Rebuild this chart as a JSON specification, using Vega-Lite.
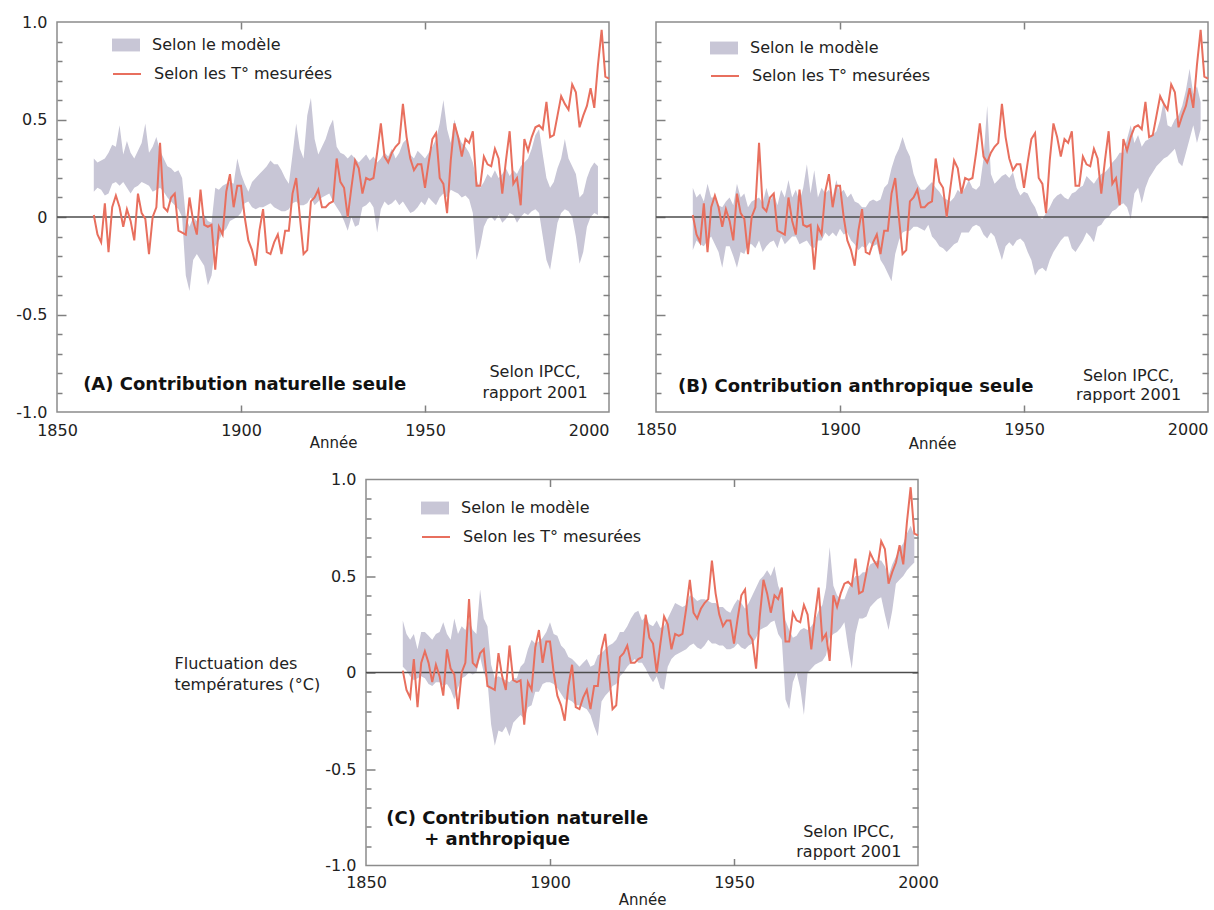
{
"$schema": "https://vega.github.io/schema/vega-lite/v6.json",
"background": "white",
"padding": {"left": 15, "top": 13, "right": 0, "bottom": 0},
"config": {"view": {"stroke": null}, "text": {"font": "DejaVu Sans"}, "legend": {"labelLimit": 400}},
"datasets": {
"obs": [
{"year":1860,"t":0.01},{"year":1861,"t":-0.09},{"year":1862,"t":-0.13},{"year":1863,"t":0.07},{"year":1864,"t":-0.18},{"year":1865,"t":0.05},{"year":1866,"t":0.11},{"year":1867,"t":0.05},{"year":1868,"t":-0.05},{"year":1869,"t":0.04},
{"year":1870,"t":-0.02},{"year":1871,"t":-0.12},{"year":1872,"t":0.12},{"year":1873,"t":0.02},{"year":1874,"t":-0.01},{"year":1875,"t":-0.19},{"year":1876,"t":0.0},{"year":1877,"t":0.05},{"year":1878,"t":0.38},{"year":1879,"t":0.05},
{"year":1880,"t":0.03},{"year":1881,"t":0.10},{"year":1882,"t":0.12},{"year":1883,"t":-0.07},{"year":1884,"t":-0.08},{"year":1885,"t":-0.09},{"year":1886,"t":0.10},{"year":1887,"t":-0.02},{"year":1888,"t":-0.09},{"year":1889,"t":0.14},
{"year":1890,"t":-0.04},{"year":1891,"t":-0.05},{"year":1892,"t":-0.04},{"year":1893,"t":-0.27},{"year":1894,"t":-0.05},{"year":1895,"t":-0.09},{"year":1896,"t":0.13},{"year":1897,"t":0.22},{"year":1898,"t":0.05},{"year":1899,"t":0.16},
{"year":1900,"t":0.16},{"year":1901,"t":0.0},{"year":1902,"t":-0.12},{"year":1903,"t":-0.17},{"year":1904,"t":-0.25},{"year":1905,"t":-0.07},{"year":1906,"t":0.04},{"year":1907,"t":-0.18},{"year":1908,"t":-0.19},{"year":1909,"t":-0.13},
{"year":1910,"t":-0.09},{"year":1911,"t":-0.19},{"year":1912,"t":-0.07},{"year":1913,"t":-0.07},{"year":1914,"t":0.12},{"year":1915,"t":0.20},{"year":1916,"t":0.0},{"year":1917,"t":-0.19},{"year":1918,"t":-0.17},{"year":1919,"t":0.08},
{"year":1920,"t":0.10},{"year":1921,"t":0.14},{"year":1922,"t":0.05},{"year":1923,"t":0.05},{"year":1924,"t":0.07},{"year":1925,"t":0.08},{"year":1926,"t":0.30},{"year":1927,"t":0.18},{"year":1928,"t":0.15},{"year":1929,"t":0.0},
{"year":1930,"t":0.15},{"year":1931,"t":0.29},{"year":1932,"t":0.25},{"year":1933,"t":0.12},{"year":1934,"t":0.20},{"year":1935,"t":0.19},{"year":1936,"t":0.20},{"year":1937,"t":0.33},{"year":1938,"t":0.48},{"year":1939,"t":0.31},
{"year":1940,"t":0.28},{"year":1941,"t":0.33},{"year":1942,"t":0.36},{"year":1943,"t":0.38},{"year":1944,"t":0.58},{"year":1945,"t":0.41},{"year":1946,"t":0.30},{"year":1947,"t":0.24},{"year":1948,"t":0.27},{"year":1949,"t":0.27},
{"year":1950,"t":0.15},{"year":1951,"t":0.28},{"year":1952,"t":0.40},{"year":1953,"t":0.43},{"year":1954,"t":0.20},{"year":1955,"t":0.17},{"year":1956,"t":0.02},{"year":1957,"t":0.29},{"year":1958,"t":0.48},{"year":1959,"t":0.41},
{"year":1960,"t":0.31},{"year":1961,"t":0.40},{"year":1962,"t":0.38},{"year":1963,"t":0.44},{"year":1964,"t":0.16},{"year":1965,"t":0.16},{"year":1966,"t":0.31},{"year":1967,"t":0.27},{"year":1968,"t":0.26},{"year":1969,"t":0.35},
{"year":1970,"t":0.30},{"year":1971,"t":0.12},{"year":1972,"t":0.29},{"year":1973,"t":0.44},{"year":1974,"t":0.17},{"year":1975,"t":0.20},{"year":1976,"t":0.06},{"year":1977,"t":0.40},{"year":1978,"t":0.34},{"year":1979,"t":0.41},
{"year":1980,"t":0.46},{"year":1981,"t":0.47},{"year":1982,"t":0.45},{"year":1983,"t":0.59},{"year":1984,"t":0.41},{"year":1985,"t":0.42},{"year":1986,"t":0.52},{"year":1987,"t":0.62},{"year":1988,"t":0.58},{"year":1989,"t":0.55},
{"year":1990,"t":0.68},{"year":1991,"t":0.64},{"year":1992,"t":0.46},{"year":1993,"t":0.52},{"year":1994,"t":0.57},{"year":1995,"t":0.66},{"year":1996,"t":0.56},{"year":1997,"t":0.78},{"year":1998,"t":0.96},{"year":1999,"t":0.72},
{"year":2000,"t":0.71}
],
"bandA": [
{"year":1860,"lo":0.13,"hi":0.30},{"year":1861,"lo":0.15,"hi":0.28},{"year":1862,"lo":0.14,"hi":0.29},{"year":1863,"lo":0.11,"hi":0.30},{"year":1864,"lo":0.12,"hi":0.33},{"year":1865,"lo":0.17,"hi":0.37},{"year":1866,"lo":0.18,"hi":0.36},{"year":1867,"lo":0.16,"hi":0.47},{"year":1868,"lo":0.18,"hi":0.32},{"year":1869,"lo":0.15,"hi":0.39},
{"year":1870,"lo":0.12,"hi":0.33},{"year":1871,"lo":0.15,"hi":0.30},{"year":1872,"lo":0.16,"hi":0.34},{"year":1873,"lo":0.18,"hi":0.38},{"year":1874,"lo":0.17,"hi":0.48},{"year":1875,"lo":0.16,"hi":0.33},{"year":1876,"lo":0.13,"hi":0.36},{"year":1877,"lo":0.14,"hi":0.41},{"year":1878,"lo":0.15,"hi":0.34},{"year":1879,"lo":0.13,"hi":0.30},
{"year":1880,"lo":0.10,"hi":0.26},{"year":1881,"lo":0.08,"hi":0.25},{"year":1882,"lo":0.06,"hi":0.23},{"year":1883,"lo":0.04,"hi":0.24},{"year":1884,"lo":0.00,"hi":0.20},{"year":1885,"lo":-0.30,"hi":0.00},{"year":1886,"lo":-0.38,"hi":-0.05},{"year":1887,"lo":-0.22,"hi":0.00},{"year":1888,"lo":-0.19,"hi":-0.02},{"year":1889,"lo":-0.22,"hi":0.00},
{"year":1890,"lo":-0.25,"hi":0.01},{"year":1891,"lo":-0.35,"hi":-0.02},{"year":1892,"lo":-0.30,"hi":-0.03},{"year":1893,"lo":-0.15,"hi":0.15},{"year":1894,"lo":-0.12,"hi":0.14},{"year":1895,"lo":-0.08,"hi":0.16},{"year":1896,"lo":-0.06,"hi":0.17},{"year":1897,"lo":-0.02,"hi":0.18},{"year":1898,"lo":-0.01,"hi":0.17},{"year":1899,"lo":0.00,"hi":0.30},
{"year":1900,"lo":0.02,"hi":0.22},{"year":1901,"lo":0.07,"hi":0.17},{"year":1902,"lo":0.08,"hi":0.13},{"year":1903,"lo":0.05,"hi":0.18},{"year":1904,"lo":0.04,"hi":0.20},{"year":1905,"lo":0.05,"hi":0.22},{"year":1906,"lo":0.05,"hi":0.24},{"year":1907,"lo":0.06,"hi":0.26},{"year":1908,"lo":0.07,"hi":0.29},{"year":1909,"lo":0.05,"hi":0.27},
{"year":1910,"lo":0.04,"hi":0.27},{"year":1911,"lo":0.03,"hi":0.24},{"year":1912,"lo":0.03,"hi":0.20},{"year":1913,"lo":0.04,"hi":0.17},{"year":1914,"lo":0.07,"hi":0.32},{"year":1915,"lo":0.08,"hi":0.48},{"year":1916,"lo":0.06,"hi":0.35},{"year":1917,"lo":0.06,"hi":0.30},{"year":1918,"lo":0.07,"hi":0.52},{"year":1919,"lo":0.10,"hi":0.61},
{"year":1920,"lo":0.06,"hi":0.40},{"year":1921,"lo":0.08,"hi":0.32},{"year":1922,"lo":0.10,"hi":0.36},{"year":1923,"lo":0.11,"hi":0.40},{"year":1924,"lo":0.12,"hi":0.46},{"year":1925,"lo":0.08,"hi":0.50},{"year":1926,"lo":0.05,"hi":0.36},{"year":1927,"lo":0.02,"hi":0.33},{"year":1928,"lo":-0.02,"hi":0.32},{"year":1929,"lo":-0.07,"hi":0.30},
{"year":1930,"lo":0.00,"hi":0.32},{"year":1931,"lo":-0.05,"hi":0.30},{"year":1932,"lo":-0.04,"hi":0.28},{"year":1933,"lo":0.05,"hi":0.30},{"year":1934,"lo":0.06,"hi":0.32},{"year":1935,"lo":0.08,"hi":0.29},{"year":1936,"lo":0.05,"hi":0.31},{"year":1937,"lo":-0.08,"hi":0.28},{"year":1938,"lo":0.04,"hi":0.30},{"year":1939,"lo":0.08,"hi":0.33},
{"year":1940,"lo":0.06,"hi":0.31},{"year":1941,"lo":0.07,"hi":0.35},{"year":1942,"lo":0.09,"hi":0.30},{"year":1943,"lo":0.06,"hi":0.33},{"year":1944,"lo":0.08,"hi":0.38},{"year":1945,"lo":0.05,"hi":0.40},{"year":1946,"lo":0.02,"hi":0.32},{"year":1947,"lo":0.03,"hi":0.30},{"year":1948,"lo":0.05,"hi":0.34},{"year":1949,"lo":0.08,"hi":0.32},
{"year":1950,"lo":0.06,"hi":0.30},{"year":1951,"lo":0.10,"hi":0.33},{"year":1952,"lo":0.08,"hi":0.36},{"year":1953,"lo":0.06,"hi":0.40},{"year":1954,"lo":0.10,"hi":0.48},{"year":1955,"lo":0.12,"hi":0.60},{"year":1956,"lo":0.10,"hi":0.45},{"year":1957,"lo":0.14,"hi":0.38},{"year":1958,"lo":0.13,"hi":0.50},{"year":1959,"lo":0.12,"hi":0.42},
{"year":1960,"lo":0.10,"hi":0.38},{"year":1961,"lo":0.11,"hi":0.36},{"year":1962,"lo":0.09,"hi":0.33},{"year":1963,"lo":0.02,"hi":0.28},{"year":1964,"lo":-0.22,"hi":0.19},{"year":1965,"lo":-0.15,"hi":0.15},{"year":1966,"lo":-0.05,"hi":0.18},{"year":1967,"lo":-0.01,"hi":0.22},{"year":1968,"lo":0.00,"hi":0.20},{"year":1969,"lo":-0.02,"hi":0.24},
{"year":1970,"lo":0.01,"hi":0.20},{"year":1971,"lo":-0.03,"hi":0.22},{"year":1972,"lo":-0.01,"hi":0.25},{"year":1973,"lo":0.02,"hi":0.21},{"year":1974,"lo":0.01,"hi":0.24},{"year":1975,"lo":-0.03,"hi":0.22},{"year":1976,"lo":0.00,"hi":0.26},{"year":1977,"lo":0.02,"hi":0.28},{"year":1978,"lo":0.01,"hi":0.30},{"year":1979,"lo":0.03,"hi":0.35},
{"year":1980,"lo":0.04,"hi":0.42},{"year":1981,"lo":0.02,"hi":0.45},{"year":1982,"lo":-0.10,"hi":0.32},{"year":1983,"lo":-0.22,"hi":0.20},{"year":1984,"lo":-0.27,"hi":0.15},{"year":1985,"lo":-0.15,"hi":0.18},{"year":1986,"lo":-0.03,"hi":0.25},{"year":1987,"lo":0.02,"hi":0.30},{"year":1988,"lo":0.04,"hi":0.40},{"year":1989,"lo":0.03,"hi":0.30},
{"year":1990,"lo":0.00,"hi":0.26},{"year":1991,"lo":-0.10,"hi":0.22},{"year":1992,"lo":-0.24,"hi":0.10},{"year":1993,"lo":-0.18,"hi":0.12},{"year":1994,"lo":-0.05,"hi":0.20},{"year":1995,"lo":0.00,"hi":0.25},{"year":1996,"lo":0.02,"hi":0.28},{"year":1997,"lo":0.01,"hi":0.26}
],
"bandB": [
{"year":1860,"lo":-0.17,"hi":0.15},{"year":1861,"lo":-0.12,"hi":0.10},{"year":1862,"lo":-0.14,"hi":0.12},{"year":1863,"lo":-0.15,"hi":0.08},{"year":1864,"lo":-0.12,"hi":0.17},{"year":1865,"lo":-0.10,"hi":0.10},{"year":1866,"lo":-0.14,"hi":0.10},{"year":1867,"lo":-0.18,"hi":0.06},{"year":1868,"lo":-0.26,"hi":0.05},{"year":1869,"lo":-0.15,"hi":0.08},
{"year":1870,"lo":-0.15,"hi":0.10},{"year":1871,"lo":-0.20,"hi":0.06},{"year":1872,"lo":-0.26,"hi":0.17},{"year":1873,"lo":-0.18,"hi":0.10},{"year":1874,"lo":-0.19,"hi":0.12},{"year":1875,"lo":-0.14,"hi":0.05},{"year":1876,"lo":-0.14,"hi":0.08},{"year":1877,"lo":-0.16,"hi":0.09},{"year":1878,"lo":-0.12,"hi":0.10},{"year":1879,"lo":-0.18,"hi":0.07},
{"year":1880,"lo":-0.15,"hi":0.15},{"year":1881,"lo":-0.13,"hi":0.08},{"year":1882,"lo":-0.12,"hi":0.12},{"year":1883,"lo":-0.16,"hi":0.06},{"year":1884,"lo":-0.10,"hi":0.14},{"year":1885,"lo":-0.14,"hi":0.10},{"year":1886,"lo":-0.12,"hi":0.19},{"year":1887,"lo":-0.10,"hi":0.10},{"year":1888,"lo":-0.10,"hi":0.14},{"year":1889,"lo":-0.14,"hi":0.08},
{"year":1890,"lo":-0.13,"hi":0.15},{"year":1891,"lo":-0.12,"hi":0.27},{"year":1892,"lo":-0.15,"hi":0.12},{"year":1893,"lo":-0.16,"hi":0.24},{"year":1894,"lo":-0.12,"hi":0.10},{"year":1895,"lo":-0.12,"hi":0.15},{"year":1896,"lo":-0.08,"hi":0.12},{"year":1897,"lo":-0.10,"hi":0.14},{"year":1898,"lo":-0.08,"hi":0.10},{"year":1899,"lo":-0.10,"hi":0.19},
{"year":1900,"lo":-0.06,"hi":0.12},{"year":1901,"lo":-0.09,"hi":0.14},{"year":1902,"lo":-0.08,"hi":0.10},{"year":1903,"lo":-0.12,"hi":0.12},{"year":1904,"lo":-0.14,"hi":0.08},{"year":1905,"lo":-0.17,"hi":0.07},{"year":1906,"lo":-0.15,"hi":0.05},{"year":1907,"lo":-0.16,"hi":0.05},{"year":1908,"lo":-0.13,"hi":0.08},{"year":1909,"lo":-0.15,"hi":0.09},
{"year":1910,"lo":-0.14,"hi":0.08},{"year":1911,"lo":-0.22,"hi":0.09},{"year":1912,"lo":-0.25,"hi":0.15},{"year":1913,"lo":-0.29,"hi":0.17},{"year":1914,"lo":-0.33,"hi":0.25},{"year":1915,"lo":-0.19,"hi":0.31},{"year":1916,"lo":-0.12,"hi":0.35},{"year":1917,"lo":-0.08,"hi":0.41},{"year":1918,"lo":-0.07,"hi":0.35},{"year":1919,"lo":-0.07,"hi":0.31},
{"year":1920,"lo":-0.05,"hi":0.22},{"year":1921,"lo":-0.05,"hi":0.17},{"year":1922,"lo":-0.06,"hi":0.14},{"year":1923,"lo":-0.07,"hi":0.14},{"year":1924,"lo":-0.04,"hi":0.16},{"year":1925,"lo":-0.10,"hi":0.18},{"year":1926,"lo":-0.12,"hi":0.15},{"year":1927,"lo":-0.15,"hi":0.13},{"year":1928,"lo":-0.16,"hi":0.10},{"year":1929,"lo":-0.18,"hi":0.09},
{"year":1930,"lo":-0.16,"hi":0.08},{"year":1931,"lo":-0.14,"hi":0.10},{"year":1932,"lo":-0.13,"hi":0.14},{"year":1933,"lo":-0.08,"hi":0.12},{"year":1934,"lo":-0.08,"hi":0.15},{"year":1935,"lo":-0.08,"hi":0.19},{"year":1936,"lo":-0.05,"hi":0.15},{"year":1937,"lo":-0.04,"hi":0.14},{"year":1938,"lo":-0.05,"hi":0.16},{"year":1939,"lo":-0.09,"hi":0.30},
{"year":1940,"lo":-0.11,"hi":0.57},{"year":1941,"lo":-0.08,"hi":0.22},{"year":1942,"lo":-0.10,"hi":0.17},{"year":1943,"lo":-0.16,"hi":0.19},{"year":1944,"lo":-0.22,"hi":0.21},{"year":1945,"lo":-0.15,"hi":0.22},{"year":1946,"lo":-0.13,"hi":0.20},{"year":1947,"lo":-0.15,"hi":0.23},{"year":1948,"lo":-0.12,"hi":0.15},{"year":1949,"lo":-0.11,"hi":0.11},
{"year":1950,"lo":-0.13,"hi":0.13},{"year":1951,"lo":-0.18,"hi":0.12},{"year":1952,"lo":-0.22,"hi":0.08},{"year":1953,"lo":-0.30,"hi":0.05},{"year":1954,"lo":-0.27,"hi":0.00},{"year":1955,"lo":-0.26,"hi":-0.01},{"year":1956,"lo":-0.28,"hi":0.02},{"year":1957,"lo":-0.22,"hi":0.05},{"year":1958,"lo":-0.18,"hi":0.09},{"year":1959,"lo":-0.15,"hi":0.11},
{"year":1960,"lo":-0.12,"hi":0.12},{"year":1961,"lo":-0.10,"hi":0.10},{"year":1962,"lo":-0.10,"hi":0.09},{"year":1963,"lo":-0.16,"hi":0.12},{"year":1964,"lo":-0.18,"hi":0.13},{"year":1965,"lo":-0.15,"hi":0.15},{"year":1966,"lo":-0.12,"hi":0.16},{"year":1967,"lo":-0.08,"hi":0.21},{"year":1968,"lo":-0.10,"hi":0.19},{"year":1969,"lo":-0.13,"hi":0.17},
{"year":1970,"lo":-0.05,"hi":0.20},{"year":1971,"lo":-0.04,"hi":0.22},{"year":1972,"lo":-0.01,"hi":0.23},{"year":1973,"lo":0.00,"hi":0.25},{"year":1974,"lo":0.03,"hi":0.28},{"year":1975,"lo":0.04,"hi":0.30},{"year":1976,"lo":0.06,"hi":0.33},{"year":1977,"lo":0.07,"hi":0.33},{"year":1978,"lo":0.05,"hi":0.40},{"year":1979,"lo":-0.01,"hi":0.47},
{"year":1980,"lo":0.12,"hi":0.38},{"year":1981,"lo":0.15,"hi":0.42},{"year":1982,"lo":0.07,"hi":0.36},{"year":1983,"lo":0.15,"hi":0.39},{"year":1984,"lo":0.20,"hi":0.40},{"year":1985,"lo":0.23,"hi":0.42},{"year":1986,"lo":0.26,"hi":0.44},{"year":1987,"lo":0.28,"hi":0.50},{"year":1988,"lo":0.30,"hi":0.60},{"year":1989,"lo":0.31,"hi":0.47},
{"year":1990,"lo":0.33,"hi":0.46},{"year":1991,"lo":0.35,"hi":0.50},{"year":1992,"lo":0.28,"hi":0.52},{"year":1993,"lo":0.26,"hi":0.57},{"year":1994,"lo":0.33,"hi":0.65},{"year":1995,"lo":0.40,"hi":0.76},{"year":1996,"lo":0.47,"hi":0.63},{"year":1997,"lo":0.38,"hi":0.67},{"year":1998,"lo":0.45,"hi":0.59}
],
"bandC": [
{"year":1860,"lo":0.03,"hi":0.27},{"year":1861,"lo":0.01,"hi":0.20},{"year":1862,"lo":-0.02,"hi":0.17},{"year":1863,"lo":-0.04,"hi":0.20},{"year":1864,"lo":-0.03,"hi":0.12},{"year":1865,"lo":-0.02,"hi":0.21},{"year":1866,"lo":-0.03,"hi":0.21},{"year":1867,"lo":-0.06,"hi":0.19},{"year":1868,"lo":-0.07,"hi":0.17},{"year":1869,"lo":-0.05,"hi":0.20},
{"year":1870,"lo":-0.05,"hi":0.21},{"year":1871,"lo":-0.07,"hi":0.26},{"year":1872,"lo":-0.06,"hi":0.20},{"year":1873,"lo":-0.09,"hi":0.17},{"year":1874,"lo":-0.14,"hi":0.28},{"year":1875,"lo":-0.08,"hi":0.20},{"year":1876,"lo":-0.03,"hi":0.24},{"year":1877,"lo":-0.02,"hi":0.22},{"year":1878,"lo":0.00,"hi":0.27},{"year":1879,"lo":-0.01,"hi":0.22},
{"year":1880,"lo":0.00,"hi":0.20},{"year":1881,"lo":0.08,"hi":0.43},{"year":1882,"lo":0.00,"hi":0.28},{"year":1883,"lo":-0.04,"hi":0.24},{"year":1884,"lo":-0.27,"hi":0.04},{"year":1885,"lo":-0.38,"hi":-0.03},{"year":1886,"lo":-0.30,"hi":-0.02},{"year":1887,"lo":-0.31,"hi":-0.03},{"year":1888,"lo":-0.28,"hi":-0.04},{"year":1889,"lo":-0.33,"hi":-0.05},
{"year":1890,"lo":-0.26,"hi":-0.03},{"year":1891,"lo":-0.24,"hi":-0.03},{"year":1892,"lo":-0.22,"hi":0.03},{"year":1893,"lo":-0.24,"hi":0.05},{"year":1894,"lo":-0.18,"hi":0.12},{"year":1895,"lo":-0.17,"hi":0.17},{"year":1896,"lo":-0.10,"hi":0.15},{"year":1897,"lo":-0.10,"hi":0.16},{"year":1898,"lo":-0.06,"hi":0.18},{"year":1899,"lo":-0.05,"hi":0.21},
{"year":1900,"lo":-0.05,"hi":0.26},{"year":1901,"lo":-0.06,"hi":0.20},{"year":1902,"lo":-0.08,"hi":0.19},{"year":1903,"lo":-0.11,"hi":0.14},{"year":1904,"lo":-0.14,"hi":0.12},{"year":1905,"lo":-0.14,"hi":0.08},{"year":1906,"lo":-0.15,"hi":0.07},{"year":1907,"lo":-0.17,"hi":0.05},{"year":1908,"lo":-0.17,"hi":0.03},{"year":1909,"lo":-0.18,"hi":0.05},
{"year":1910,"lo":-0.19,"hi":0.07},{"year":1911,"lo":-0.22,"hi":0.03},{"year":1912,"lo":-0.28,"hi":0.04},{"year":1913,"lo":-0.33,"hi":0.09},{"year":1914,"lo":-0.15,"hi":0.10},{"year":1915,"lo":-0.12,"hi":0.12},{"year":1916,"lo":-0.10,"hi":0.14},{"year":1917,"lo":-0.07,"hi":0.15},{"year":1918,"lo":-0.06,"hi":0.17},{"year":1919,"lo":-0.02,"hi":0.21},
{"year":1920,"lo":0.00,"hi":0.21},{"year":1921,"lo":0.03,"hi":0.24},{"year":1922,"lo":0.05,"hi":0.28},{"year":1923,"lo":0.07,"hi":0.31},{"year":1924,"lo":0.05,"hi":0.32},{"year":1925,"lo":0.05,"hi":0.27},{"year":1926,"lo":0.02,"hi":0.29},{"year":1927,"lo":-0.02,"hi":0.25},{"year":1928,"lo":-0.05,"hi":0.24},{"year":1929,"lo":-0.02,"hi":0.27},
{"year":1930,"lo":-0.08,"hi":0.23},{"year":1931,"lo":-0.09,"hi":0.24},{"year":1932,"lo":0.03,"hi":0.28},{"year":1933,"lo":0.07,"hi":0.32},{"year":1934,"lo":0.09,"hi":0.36},{"year":1935,"lo":0.10,"hi":0.35},{"year":1936,"lo":0.11,"hi":0.34},{"year":1937,"lo":0.12,"hi":0.35},{"year":1938,"lo":0.14,"hi":0.40},{"year":1939,"lo":0.15,"hi":0.39},
{"year":1940,"lo":0.13,"hi":0.37},{"year":1941,"lo":0.12,"hi":0.38},{"year":1942,"lo":0.14,"hi":0.38},{"year":1943,"lo":0.17,"hi":0.37},{"year":1944,"lo":0.15,"hi":0.36},{"year":1945,"lo":0.15,"hi":0.36},{"year":1946,"lo":0.14,"hi":0.34},{"year":1947,"lo":0.14,"hi":0.34},{"year":1948,"lo":0.12,"hi":0.32},{"year":1949,"lo":0.12,"hi":0.31},
{"year":1950,"lo":0.13,"hi":0.35},{"year":1951,"lo":0.15,"hi":0.38},{"year":1952,"lo":0.13,"hi":0.36},{"year":1953,"lo":0.12,"hi":0.33},{"year":1954,"lo":0.14,"hi":0.36},{"year":1955,"lo":0.15,"hi":0.40},{"year":1956,"lo":0.18,"hi":0.44},{"year":1957,"lo":0.22,"hi":0.48},{"year":1958,"lo":0.23,"hi":0.50},{"year":1959,"lo":0.24,"hi":0.53},
{"year":1960,"lo":0.26,"hi":0.50},{"year":1961,"lo":0.27,"hi":0.55},{"year":1962,"lo":0.20,"hi":0.45},{"year":1963,"lo":0.17,"hi":0.40},{"year":1964,"lo":-0.14,"hi":0.27},{"year":1965,"lo":-0.19,"hi":0.22},{"year":1966,"lo":-0.05,"hi":0.18},{"year":1967,"lo":0.00,"hi":0.19},{"year":1968,"lo":-0.08,"hi":0.22},{"year":1969,"lo":-0.22,"hi":0.23},
{"year":1970,"lo":0.00,"hi":0.22},{"year":1971,"lo":0.02,"hi":0.24},{"year":1972,"lo":0.04,"hi":0.27},{"year":1973,"lo":0.05,"hi":0.32},{"year":1974,"lo":0.06,"hi":0.35},{"year":1975,"lo":0.09,"hi":0.44},{"year":1976,"lo":0.18,"hi":0.65},{"year":1977,"lo":0.20,"hi":0.45},{"year":1978,"lo":0.21,"hi":0.40},{"year":1979,"lo":0.23,"hi":0.38},
{"year":1980,"lo":0.26,"hi":0.38},{"year":1981,"lo":0.13,"hi":0.43},{"year":1982,"lo":0.02,"hi":0.47},{"year":1983,"lo":0.20,"hi":0.50},{"year":1984,"lo":0.28,"hi":0.50},{"year":1985,"lo":0.28,"hi":0.52},{"year":1986,"lo":0.29,"hi":0.52},{"year":1987,"lo":0.34,"hi":0.56},{"year":1988,"lo":0.36,"hi":0.57},{"year":1989,"lo":0.38,"hi":0.58},
{"year":1990,"lo":0.39,"hi":0.58},{"year":1991,"lo":0.30,"hi":0.55},{"year":1992,"lo":0.22,"hi":0.50},{"year":1993,"lo":0.32,"hi":0.56},{"year":1994,"lo":0.46,"hi":0.60},{"year":1995,"lo":0.48,"hi":0.64},{"year":1996,"lo":0.50,"hi":0.67},{"year":1997,"lo":0.53,"hi":0.72},{"year":1998,"lo":0.55,"hi":0.76},{"year":1999,"lo":0.57,"hi":0.71}
]
},
"spacing": 18.5,
"resolve": {"scale": {"fill": "independent", "stroke": "independent"}, "legend": {"fill": "independent", "stroke": "independent"}},
"vconcat": [
{
"bounds": "flush",
"spacing": 47,
"resolve": {"scale": {"fill": "independent", "stroke": "independent"}, "legend": {"fill": "independent", "stroke": "independent"}},
"hconcat": [
{
"width": 552, "height": 390,
"view": {"stroke": "#8c8c8c", "strokeWidth": 1.5},
"resolve": {"axis": {"x": "independent", "y": "independent"}},
"layer": [
{"data": {"name": "bandA"}, "mark": {"type": "area", "opacity": 1},
 "encoding": {
  "x": {"field": "year", "type": "quantitative", "scale": {"domain": [1850, 2000], "nice": false, "zero": false},
        "axis": {"orient": "bottom", "values": [1850, 1900, 1950, 2000], "format": "d", "ticks": false, "domain": false, "grid": false, "labelFont": "DejaVu Sans", "labelFontSize": 16, "labelColor": "#222222", "labelPadding": 10, "labelFlush": false, "labelAlign": {"condition": {"test": "datum.value == 2000", "value": "right"}, "value": "center"}, "title": "Année", "titleFont": "DejaVu Sans", "titleFontSize": 15, "titleFontWeight": "normal", "titleColor": "#222222", "titlePadding": -3}},
  "y": {"field": "lo", "type": "quantitative", "scale": {"domain": [-1, 1], "nice": false, "zero": false},
        "axis": {"orient": "left", "values": [-1, -0.5, 0, 0.5, 1], "labelExpr": "datum.value == 0 ? '0' : (datum.value < 0 ? '-' : '') + format(abs(datum.value), '.1f')", "ticks": false, "domain": false, "grid": false, "labelFont": "DejaVu Sans", "labelFontSize": 16, "labelColor": "#222222", "labelPadding": 10, "labelFlush": false, "title": null}},
  "y2": {"field": "hi"},
  "fill": {"datum": "Selon le modèle", "type": "nominal", "scale": {"range": ["#c8c6d6"]},
           "legend": {"title": null, "orient": "none", "legendX": 55, "legendY": 9, "symbolType": "M-1,-0.46H1V0.46H-1Z", "symbolSize": 784, "symbolStrokeWidth": 0, "symbolOpacity": 1, "labelFont": "DejaVu Sans", "labelFontSize": 16, "labelColor": "#222222", "labelOffset": 12, "labelLimit": 400, "padding": 0}}
 }},
{"data": {"values": [{}]}, "mark": {"type": "rule", "color": "#4d4d4d", "strokeWidth": 1.5},
 "encoding": {
  "y": {"datum": 0, "type": "quantitative", "scale": {"domain": [-1, 1], "nice": false, "zero": false},
        "axis": {"orient": "right", "values": [-0.9, -0.8, -0.7, -0.6, -0.5, -0.4, -0.3, -0.2, -0.1, 0, 0.1, 0.2, 0.3, 0.4, 0.5, 0.6, 0.7, 0.8, 0.9], "labels": false, "domain": false, "grid": false, "tickSize": -6, "tickColor": "#808080", "tickWidth": 1.5, "title": null}}
 }},
{"data": {"name": "obs"}, "mark": {"type": "line", "strokeWidth": 2},
 "encoding": {
  "x": {"field": "year", "type": "quantitative", "scale": {"domain": [1850, 2000], "nice": false, "zero": false},
        "axis": {"orient": "bottom", "values": [1900, 1950], "labels": false, "domain": false, "grid": false, "tickSize": -7, "tickColor": "#808080", "tickWidth": 1.5, "title": null}},
  "y": {"field": "t", "type": "quantitative", "scale": {"domain": [-1, 1], "nice": false, "zero": false},
        "axis": {"orient": "left", "values": [-0.5, 0, 0.5], "labels": false, "domain": false, "grid": false, "tickSize": -9, "tickColor": "#808080", "tickWidth": 1.5, "title": null}},
  "stroke": {"datum": "Selon les T° mesurées", "type": "nominal", "scale": {"range": ["#e86f5e"]},
             "legend": {"title": null, "orient": "none", "legendX": 55, "legendY": 37, "symbolType": "stroke", "symbolSize": 784, "symbolStrokeWidth": 2, "labelFont": "DejaVu Sans", "labelFontSize": 16, "labelColor": "#222222", "labelOffset": 12, "labelLimit": 400, "padding": 0}}
 }},
{"data": {"values": [{}]}, "mark": {"type": "text", "align": "left", "baseline": "middle", "font": "DejaVu Sans", "fontSize": 18, "fontWeight": "bold", "color": "#111111"},
 "encoding": {
  "x": {"datum": 1857.1, "type": "quantitative", "scale": {"domain": [1850, 2000], "nice": false, "zero": false},
        "axis": {"orient": "top", "values": [1900, 1950], "labels": false, "domain": false, "grid": false, "tickSize": -7, "tickColor": "#808080", "tickWidth": 1.5, "title": null}},
  "y": {"datum": -0.86, "type": "quantitative", "scale": {"domain": [-1, 1], "nice": false, "zero": false},
        "axis": {"orient": "left", "values": [-0.9, -0.8, -0.7, -0.6, -0.4, -0.3, -0.2, -0.1, 0.1, 0.2, 0.3, 0.4, 0.6, 0.7, 0.8, 0.9], "labels": false, "domain": false, "grid": false, "tickSize": -5, "tickColor": "#808080", "tickWidth": 1.5, "title": null}},
  "text": {"value": "(A) Contribution naturelle seule"}
 }},
{"data": {"values": [{}]}, "mark": {"type": "text", "align": "center", "baseline": "middle", "font": "DejaVu Sans", "fontSize": 16, "lineHeight": 21, "color": "#222222"},
 "encoding": {
  "x": {"datum": 1979.9, "type": "quantitative", "scale": {"domain": [1850, 2000], "nice": false, "zero": false}, "axis": null},
  "y": {"datum": -0.795, "type": "quantitative", "scale": {"domain": [-1, 1], "nice": false, "zero": false}, "axis": null},
  "text": {"value": ["Selon IPCC,", "rapport 2001"]}
 }}
]
},
{
"width": 552, "height": 390,
"view": {"stroke": "#8c8c8c", "strokeWidth": 1.5},
"resolve": {"axis": {"x": "independent", "y": "independent"}},
"layer": [
{"data": {"name": "bandB"}, "mark": {"type": "area", "opacity": 1},
 "encoding": {
  "x": {"field": "year", "type": "quantitative", "scale": {"domain": [1850, 2000], "nice": false, "zero": false},
        "axis": {"orient": "bottom", "values": [1850, 1900, 1950, 2000], "format": "d", "ticks": false, "domain": false, "grid": false, "labelFont": "DejaVu Sans", "labelFontSize": 16, "labelColor": "#222222", "labelPadding": 9, "labelFlush": false, "labelAlign": {"condition": {"test": "datum.value == 2000", "value": "right"}, "value": "center"}, "title": "Année", "titleFont": "DejaVu Sans", "titleFontSize": 15, "titleFontWeight": "normal", "titleColor": "#222222", "titlePadding": -1}},
  "y": {"field": "lo", "type": "quantitative", "scale": {"domain": [-1, 1], "nice": false, "zero": false}, "axis": null},
  "y2": {"field": "hi"},
  "fill": {"datum": "Selon le modèle", "type": "nominal", "scale": {"range": ["#c8c6d6"]},
           "legend": {"title": null, "orient": "none", "legendX": 54, "legendY": 12, "symbolType": "M-1,-0.46H1V0.46H-1Z", "symbolSize": 784, "symbolStrokeWidth": 0, "symbolOpacity": 1, "labelFont": "DejaVu Sans", "labelFontSize": 16, "labelColor": "#222222", "labelOffset": 12, "labelLimit": 400, "padding": 0}}
 }},
{"data": {"values": [{}]}, "mark": {"type": "rule", "color": "#4d4d4d", "strokeWidth": 1.5},
 "encoding": {
  "y": {"datum": 0, "type": "quantitative", "scale": {"domain": [-1, 1], "nice": false, "zero": false},
        "axis": {"orient": "right", "values": [-0.9, -0.8, -0.7, -0.6, -0.5, -0.4, -0.3, -0.2, -0.1, 0, 0.1, 0.2, 0.3, 0.4, 0.5, 0.6, 0.7, 0.8, 0.9], "labels": false, "domain": false, "grid": false, "tickSize": -6, "tickColor": "#808080", "tickWidth": 1.5, "title": null}}
 }},
{"data": {"name": "obs"}, "mark": {"type": "line", "strokeWidth": 2},
 "encoding": {
  "x": {"field": "year", "type": "quantitative", "scale": {"domain": [1850, 2000], "nice": false, "zero": false},
        "axis": {"orient": "bottom", "values": [1900, 1950], "labels": false, "domain": false, "grid": false, "tickSize": -7, "tickColor": "#808080", "tickWidth": 1.5, "title": null}},
  "y": {"field": "t", "type": "quantitative", "scale": {"domain": [-1, 1], "nice": false, "zero": false},
        "axis": {"orient": "left", "values": [-0.5, 0, 0.5], "labels": false, "domain": false, "grid": false, "tickSize": -9, "tickColor": "#808080", "tickWidth": 1.5, "title": null}},
  "stroke": {"datum": "Selon les T° mesurées", "type": "nominal", "scale": {"range": ["#e86f5e"]},
             "legend": {"title": null, "orient": "none", "legendX": 54, "legendY": 39, "symbolType": "stroke", "symbolSize": 784, "symbolStrokeWidth": 2, "labelFont": "DejaVu Sans", "labelFontSize": 16, "labelColor": "#222222", "labelOffset": 12, "labelLimit": 400, "padding": 0}}
 }},
{"data": {"values": [{}]}, "mark": {"type": "text", "align": "left", "baseline": "middle", "font": "DejaVu Sans", "fontSize": 18, "fontWeight": "bold", "color": "#111111"},
 "encoding": {
  "x": {"datum": 1856, "type": "quantitative", "scale": {"domain": [1850, 2000], "nice": false, "zero": false},
        "axis": {"orient": "top", "values": [1900, 1950], "labels": false, "domain": false, "grid": false, "tickSize": -7, "tickColor": "#808080", "tickWidth": 1.5, "title": null}},
  "y": {"datum": -0.87, "type": "quantitative", "scale": {"domain": [-1, 1], "nice": false, "zero": false},
        "axis": {"orient": "left", "values": [-0.9, -0.8, -0.7, -0.6, -0.4, -0.3, -0.2, -0.1, 0.1, 0.2, 0.3, 0.4, 0.6, 0.7, 0.8, 0.9], "labels": false, "domain": false, "grid": false, "tickSize": -5, "tickColor": "#808080", "tickWidth": 1.5, "title": null}},
  "text": {"value": "(B) Contribution anthropique seule"}
 }},
{"data": {"values": [{}]}, "mark": {"type": "text", "align": "center", "baseline": "middle", "font": "DejaVu Sans", "fontSize": 16, "lineHeight": 19, "color": "#222222"},
 "encoding": {
  "x": {"datum": 1978.4, "type": "quantitative", "scale": {"domain": [1850, 2000], "nice": false, "zero": false}, "axis": null},
  "y": {"datum": -0.815, "type": "quantitative", "scale": {"domain": [-1, 1], "nice": false, "zero": false}, "axis": null},
  "text": {"value": ["Selon IPCC,", "rapport 2001"]}
 }}
]
}
]
},
{
"bounds": "flush",
"spacing": 10,
"resolve": {"scale": {"fill": "independent", "stroke": "independent"}, "legend": {"fill": "independent", "stroke": "independent"}},
"hconcat": [
{"width": 298.1, "height": 20, "view": {"stroke": null, "fill": "white"}, "data": {"values": [{}]}, "mark": {"type": "text"}, "encoding": {"text": {"value": ""}}},
{
"width": 552, "height": 386,
"view": {"stroke": "#8c8c8c", "strokeWidth": 1.5},
"resolve": {"axis": {"x": "independent", "y": "independent"}},
"layer": [
{"data": {"name": "bandC"}, "mark": {"type": "area", "opacity": 1},
 "encoding": {
  "x": {"field": "year", "type": "quantitative", "scale": {"domain": [1850, 2000], "nice": false, "zero": false},
        "axis": {"orient": "bottom", "values": [1850, 1900, 1950, 2000], "format": "d", "ticks": false, "domain": false, "grid": false, "labelFont": "DejaVu Sans", "labelFontSize": 16, "labelColor": "#222222", "labelPadding": 9, "labelFlush": false, "labelAlign": "center", "title": "Année", "titleFont": "DejaVu Sans", "titleFontSize": 15, "titleFontWeight": "normal", "titleColor": "#222222", "titlePadding": 2}},
  "y": {"field": "lo", "type": "quantitative", "scale": {"domain": [-1, 1], "nice": false, "zero": false},
        "axis": {"orient": "left", "values": [-1, -0.5, 0, 0.5, 1], "labelExpr": "datum.value == 0 ? '0' : (datum.value < 0 ? '-' : '') + format(abs(datum.value), '.1f')", "ticks": false, "domain": false, "grid": false, "labelFont": "DejaVu Sans", "labelFontSize": 16, "labelColor": "#222222", "labelPadding": 10, "labelFlush": false,
                 "title": ["Fluctuation des", "températures (°C)"], "titleAngle": 0, "titleAlign": "left", "titleBaseline": "middle", "titleX": -192, "titleY": 183.5, "titleLineHeight": 21.5, "titleFont": "DejaVu Sans", "titleFontSize": 16, "titleFontWeight": "normal", "titleColor": "#222222"}},
  "y2": {"field": "hi"},
  "fill": {"datum": "Selon le modèle", "type": "nominal", "scale": {"range": ["#c8c6d6"]},
           "legend": {"title": null, "orient": "none", "legendX": 55, "legendY": 14.5, "symbolType": "M-1,-0.46H1V0.46H-1Z", "symbolSize": 784, "symbolStrokeWidth": 0, "symbolOpacity": 1, "labelFont": "DejaVu Sans", "labelFontSize": 16, "labelColor": "#222222", "labelOffset": 12, "labelLimit": 400, "padding": 0}}
 }},
{"data": {"values": [{}]}, "mark": {"type": "rule", "color": "#4d4d4d", "strokeWidth": 1.5},
 "encoding": {
  "y": {"datum": 0, "type": "quantitative", "scale": {"domain": [-1, 1], "nice": false, "zero": false},
        "axis": {"orient": "right", "values": [-0.9, -0.8, -0.7, -0.6, -0.5, -0.4, -0.3, -0.2, -0.1, 0, 0.1, 0.2, 0.3, 0.4, 0.5, 0.6, 0.7, 0.8, 0.9], "labels": false, "domain": false, "grid": false, "tickSize": -6, "tickColor": "#808080", "tickWidth": 1.5, "title": null}}
 }},
{"data": {"name": "obs"}, "mark": {"type": "line", "strokeWidth": 2},
 "encoding": {
  "x": {"field": "year", "type": "quantitative", "scale": {"domain": [1850, 2000], "nice": false, "zero": false},
        "axis": {"orient": "bottom", "values": [1900, 1950], "labels": false, "domain": false, "grid": false, "tickSize": -7, "tickColor": "#808080", "tickWidth": 1.5, "title": null}},
  "y": {"field": "t", "type": "quantitative", "scale": {"domain": [-1, 1], "nice": false, "zero": false},
        "axis": {"orient": "left", "values": [-0.5, 0, 0.5], "labels": false, "domain": false, "grid": false, "tickSize": -9, "tickColor": "#808080", "tickWidth": 1.5, "title": null}},
  "stroke": {"datum": "Selon les T° mesurées", "type": "nominal", "scale": {"range": ["#e86f5e"]},
             "legend": {"title": null, "orient": "none", "legendX": 55, "legendY": 42.5, "symbolType": "stroke", "symbolSize": 784, "symbolStrokeWidth": 2, "labelFont": "DejaVu Sans", "labelFontSize": 16, "labelColor": "#222222", "labelOffset": 12, "labelLimit": 400, "padding": 0}}
 }},
{"data": {"values": [{}]}, "mark": {"type": "text", "align": "left", "baseline": "middle", "font": "DejaVu Sans", "fontSize": 18, "fontWeight": "bold", "color": "#111111"},
 "encoding": {
  "x": {"datum": 1855.5, "type": "quantitative", "scale": {"domain": [1850, 2000], "nice": false, "zero": false},
        "axis": {"orient": "top", "values": [1900, 1950], "labels": false, "domain": false, "grid": false, "tickSize": -7, "tickColor": "#808080", "tickWidth": 1.5, "title": null}},
  "y": {"datum": -0.76, "type": "quantitative", "scale": {"domain": [-1, 1], "nice": false, "zero": false},
        "axis": {"orient": "left", "values": [-0.9, -0.8, -0.7, -0.6, -0.4, -0.3, -0.2, -0.1, 0.1, 0.2, 0.3, 0.4, 0.6, 0.7, 0.8, 0.9], "labels": false, "domain": false, "grid": false, "tickSize": -5, "tickColor": "#808080", "tickWidth": 1.5, "title": null}},
  "text": {"value": "(C) Contribution naturelle"}
 }},
{"data": {"values": [{}]}, "mark": {"type": "text", "align": "left", "baseline": "middle", "font": "DejaVu Sans", "fontSize": 18, "fontWeight": "bold", "color": "#111111"},
 "encoding": {
  "x": {"datum": 1865.8, "type": "quantitative", "scale": {"domain": [1850, 2000], "nice": false, "zero": false}, "axis": null},
  "y": {"datum": -0.87, "type": "quantitative", "scale": {"domain": [-1, 1], "nice": false, "zero": false}, "axis": null},
  "text": {"value": "+ anthropique"}
 }},
{"data": {"values": [{}]}, "mark": {"type": "text", "align": "center", "baseline": "middle", "font": "DejaVu Sans", "fontSize": 16, "lineHeight": 20, "color": "#222222"},
 "encoding": {
  "x": {"datum": 1981.2, "type": "quantitative", "scale": {"domain": [1850, 2000], "nice": false, "zero": false}, "axis": null},
  "y": {"datum": -0.826, "type": "quantitative", "scale": {"domain": [-1, 1], "nice": false, "zero": false}, "axis": null},
  "text": {"value": ["Selon IPCC,", "rapport 2001"]}
 }}
]
}
]
}
]
}
